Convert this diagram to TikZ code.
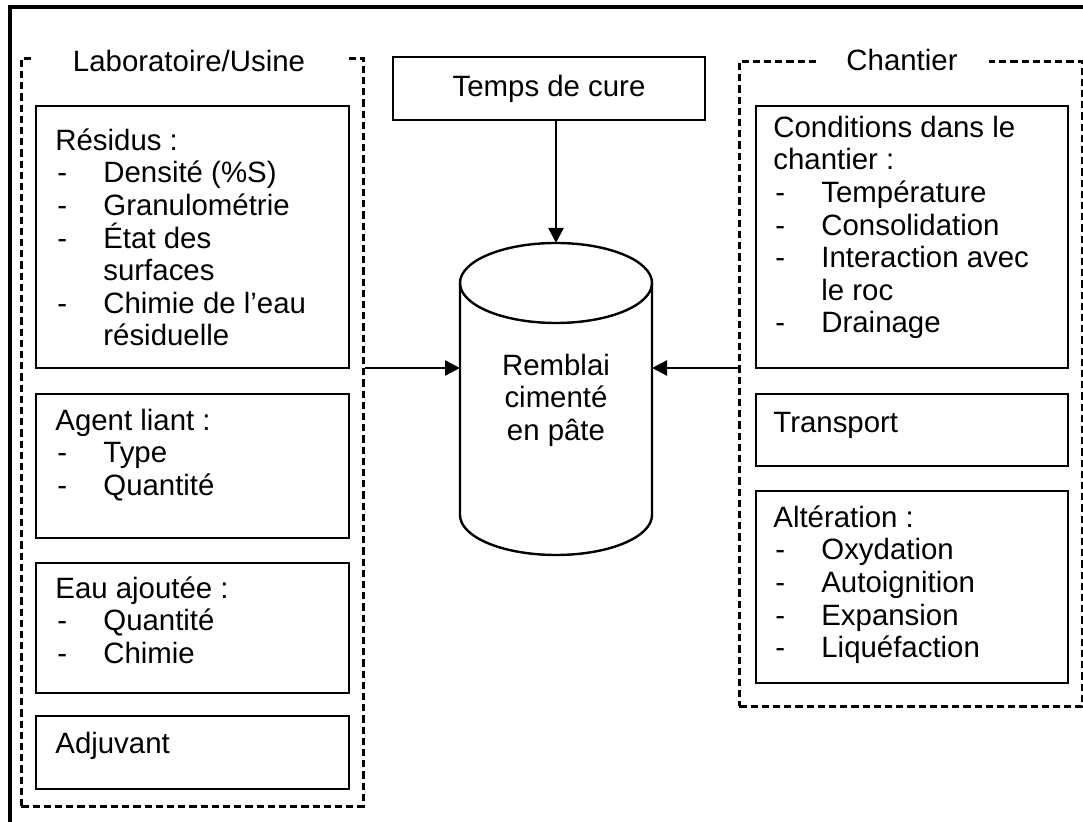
\documentclass[tikz,border=0pt]{standalone}
\usepackage{fontspec}
\setmainfont{Liberation Sans}
\usepackage{tikz}
\usetikzlibrary{arrows.meta}
\newcommand{\bodyfont}{\fontsize{14.7}{16.3}\selectfont}
\newcommand{\itm}[1]{\makebox[24pt][l]{\hspace{1pt}-}#1}
\newcommand{\cnt}[1]{\hspace*{24pt}#1}

\begin{document}
\begin{tikzpicture}[x=0.5pt,y=-0.5pt,
    box/.style={draw,line width=1.2pt,inner sep=0pt,anchor=north west},
    grp/.style={draw,line width=1.3pt,dash pattern=on 3.6pt off 2pt,inner sep=0pt,anchor=north west},
    txt/.style={inner sep=0pt,anchor=north west,align=left,font=\bodyfont},
    ttl/.style={fill=white,inner sep=0pt,anchor=base,font=\bodyfont},
    arr/.style={line width=1.2pt,-{Triangle[length=7.5pt,width=7.5pt]}}]
        \useasboundingbox (0,0) rectangle (1083,822);
        \draw[line width=1.6pt] (10,822) -- (10,7) -- (1083,7);
        \node[grp,minimum width=171pt,minimum height=374pt] (lab) at (20,57) {};
        \node[grp,minimum width=171.5pt,minimum height=322.5pt] (chan) at (738,60) {};
        \node[ttl,minimum width=157pt] (labttl) at (189,72) {Laboratoire/Usine};
        \node[ttl,minimum width=86.5pt] (chanttl) at (902,71) {Chantier};
        \node[box,minimum width=156.5pt,minimum height=131pt] (res) at (35,105) {};
        \node[box,minimum width=156.5pt,minimum height=72pt] (agent) at (35,393) {};
        \node[box,minimum width=156.5pt,minimum height=65pt] (eau) at (35,562) {};
        \node[box,minimum width=156.5pt,minimum height=36.5pt] (adj) at (35,715) {};
        \node[box,minimum width=156pt,minimum height=131pt] (cond) at (755,105) {};
        \node[box,minimum width=156pt,minimum height=36pt] (trans) at (755,393) {};
        \node[box,minimum width=156pt,minimum height=96pt] (alter) at (755,490) {};
        \node[txt] (restxt) at (55,127) {\strut R\'esidus :\\ \itm{Densit\'e (\%S)}\\ \itm{Granulom\'etrie}\\
            \itm{\'Etat des}\\ \cnt{surfaces}\\ \itm{Chimie de l'eau}\\ \cnt{r\'esiduelle}};
        \node[txt] (agenttxt) at (55,407) {\strut Agent liant :\\ \itm{Type}\\ \itm{Quantit\'e}};
        \node[txt] (eautxt) at (55,575) {\strut Eau ajout\'ee :\\ \itm{Quantit\'e}\\ \itm{Chimie}};
        \node[txt] (adjtxt) at (55,730) {\strut Adjuvant};
        \node[txt] (condtxt) at (773,114) {\strut Conditions dans le\\ chantier :\\ \itm{Temp\'erature}\\
            \itm{Consolidation}\\ \itm{Interaction avec}\\ \cnt{le roc}\\ \itm{Drainage}};
        \node[txt] (transtxt) at (773,409) {\strut Transport};
        \node[txt] (altertxt) at (773,504) {\strut Alt\'eration :\\ \itm{Oxydation}\\ \itm{Autoignition}\\
            \itm{Expansion}\\ \itm{Liqu\'efaction}};
        \node[box,anchor=center,minimum width=156pt,minimum height=31.5pt,font=\bodyfont] (temps) at (549,88.5) {Temps de cure};
        \draw[line width=1.2pt] (460,283) -- (460,515) arc[start angle=180,end angle=360,x radius=48pt,y radius=20pt] -- (652,283);
        \draw[line width=1.2pt] (556,283) ellipse[x radius=48pt,y radius=20pt];
        \node[txt,anchor=north,align=center] (cyl) at (556,352) {\strut Remblai\\ ciment\'e\\ en p\^ate};
        \coordinate (cyltop) at (556,243);
        \coordinate (cylL) at (460,368);
        \coordinate (cylR) at (652,368);
        \draw[arr] (temps.south -| cyltop) -- (cyltop);
        \draw[arr] (lab.east |- cylL) -- (cylL);
        \draw[arr] (chan.west |- cylR) -- (cylR);
\end{tikzpicture}
\end{document}
